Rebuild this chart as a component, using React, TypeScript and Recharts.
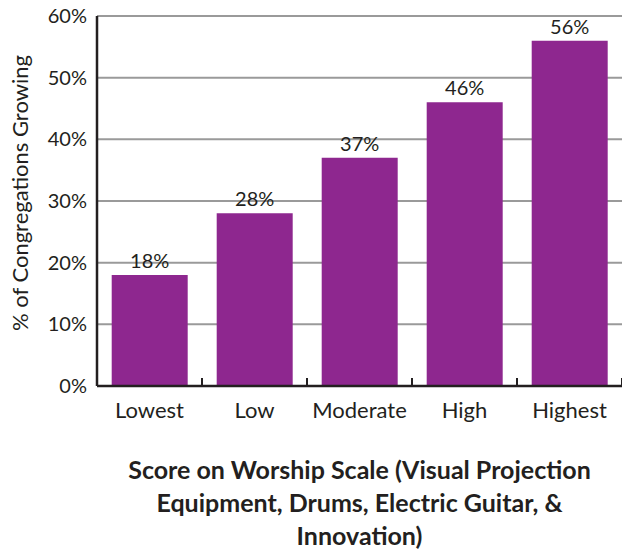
import { BarChart, Bar, XAxis, YAxis, CartesianGrid, LabelList, Label } from "recharts";

const categories = ["Lowest", "Low", "Moderate", "High", "Highest"];
const growing = [18, 28, 37, 46, 56];
const yTicks = [0, 10, 20, 30, 40, 50, 60];
const titleLines = [
  "Score on Worship Scale (Visual Projection",
  "Equipment, Drums, Electric Guitar, &",
  "Innovation)",
];

const data = categories.map((name, i) => ({ name, value: growing[i] }));

const INK = "#231f20";
const PURPLE = "#8e278f";
const FONT = "Lato, 'Open Sans', sans-serif";
const BAND = 105;

// category label plus a short upward tick at the right edge of each band
const CategoryTick = (props: any) => {
  const { x, y, payload } = props;
  return (
    <g>
      <line x1={x + BAND / 2} y1={y} x2={x + BAND / 2} y2={y - 8} stroke={INK} strokeWidth={2} />
      <text x={x} y={y + 32} textAnchor="middle" fill={INK} fontSize={22} fontFamily={FONT}>
        {payload.value}
      </text>
    </g>
  );
};

const AxisTitle = (props: any) => {
  const { viewBox } = props;
  const cx = viewBox.x + viewBox.width / 2;
  return (
    <text textAnchor="middle" fill={INK} fontSize={25} fontWeight={700} fontFamily={FONT}>
      {titleLines.map((line, i) => (
        <tspan key={line} x={cx} y={viewBox.y + 93 + i * 33}>
          {line}
        </tspan>
      ))}
    </text>
  );
};

const YTitle = (props: any) => {
  const { viewBox } = props;
  const cy = viewBox.y + viewBox.height / 2 - 8;
  return (
    <text
      x={19}
      y={cy}
      transform={`rotate(-90 19 ${cy})`}
      textAnchor="middle"
      dominantBaseline="central"
      fill={INK}
      fontSize={22}
      fontFamily={FONT}
    >
      % of Congregations  Growing
    </text>
  );
};

const App = () => {
  return (
    <div style={{ position: "absolute", left: 0, top: 0, background: "#fff" }}>
      <BarChart
        width={622}
        height={550}
        data={data}
        margin={{ top: 16, right: 0, bottom: 0, left: 0 }}
        barCategoryGap="14%"
      >
        <CartesianGrid horizontal vertical={false} stroke="#9a9a9a" strokeWidth={2} />
        <XAxis
          dataKey="name"
          axisLine={{ stroke: INK, strokeWidth: 2.5 }}
          tickLine={false}
          tickSize={0}
          tickMargin={0}
          tick={<CategoryTick />}
          height={164}
          interval={0}
        >
          <Label content={<AxisTitle />} />
        </XAxis>
        <YAxis
          width={97}
          domain={[0, 60]}
          ticks={yTicks}
          tickFormatter={(v: number) => `${v}%`}
          axisLine={{ stroke: INK, strokeWidth: 2.5 }}
          tickLine={false}
          tickMargin={4}
          tick={{ fill: INK, fontSize: 20, fontFamily: FONT }}
        >
          <Label content={<YTitle />} />
        </YAxis>
        <Bar dataKey="value" fill={PURPLE} isAnimationActive={false}>
          <LabelList
            dataKey="value"
            position="top"
            offset={7}
            formatter={(v: number) => `${v}%`}
            style={{ fill: INK, fontSize: 20, fontFamily: FONT }}
          />
        </Bar>
      </BarChart>
    </div>
  );
};

export default App;
